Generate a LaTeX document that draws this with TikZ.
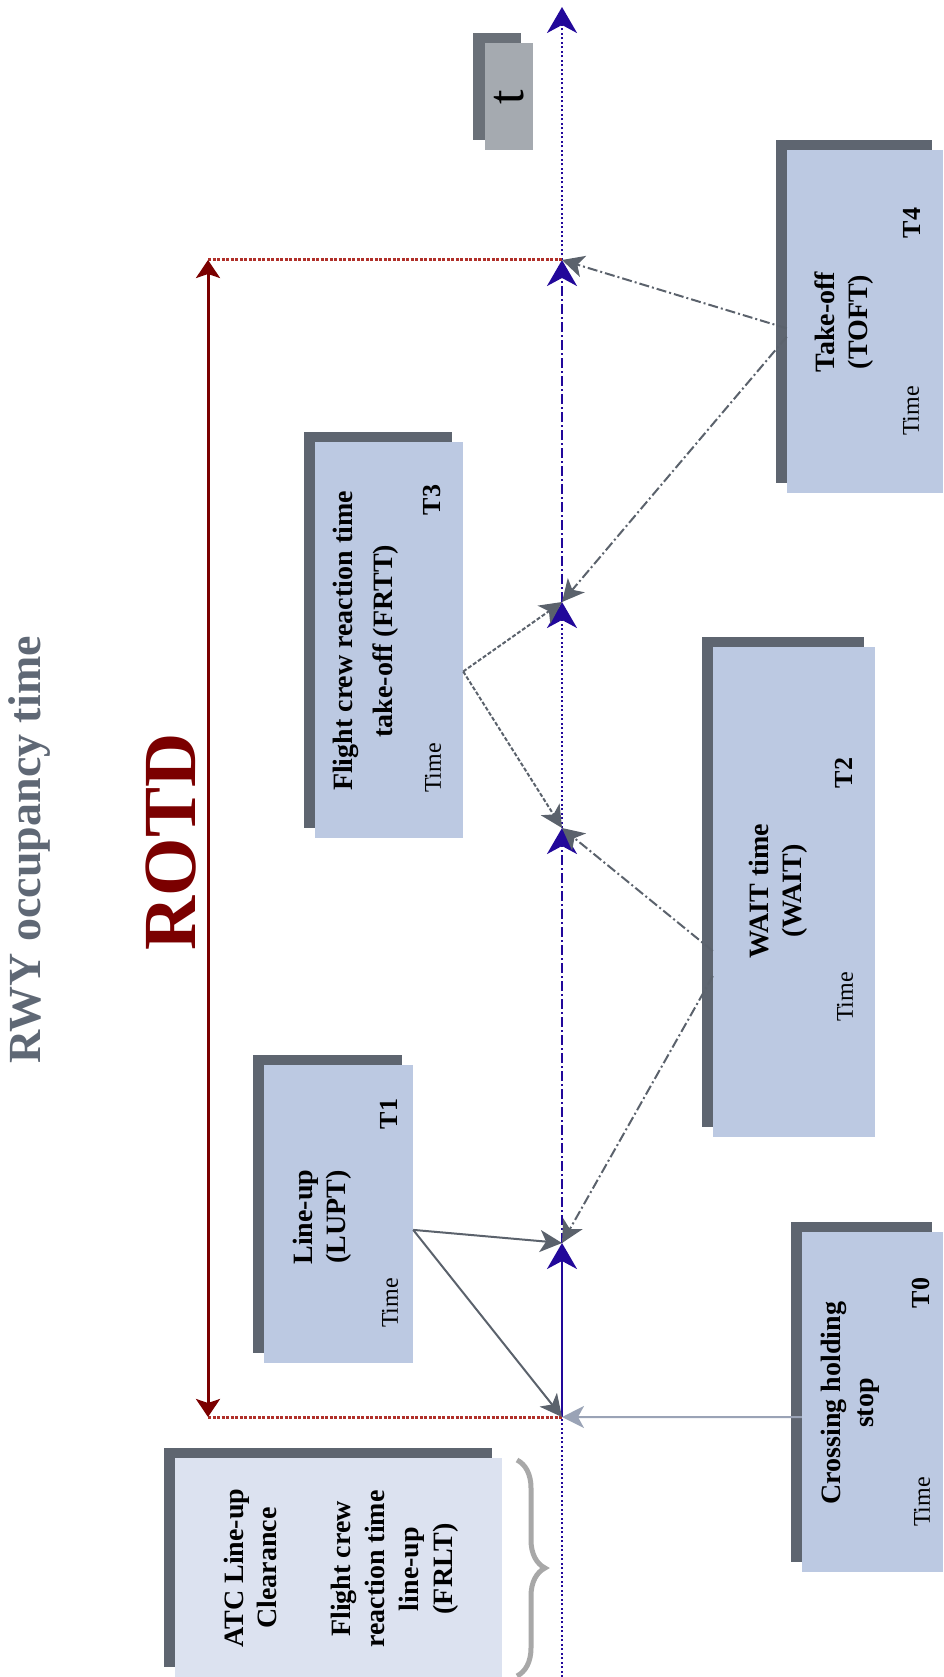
\documentclass[tikz,border=0pt]{standalone}
\usepackage{fontspec}
\setmainfont{Liberation Serif}
\usetikzlibrary{arrows.meta,shadows,decorations.pathreplacing}
\definecolor{boxfill}{HTML}{BCC9E2}
\definecolor{boxshade}{HTML}{5E6570}
\definecolor{atcfill}{HTML}{DCE2F0}
\definecolor{tfill}{HTML}{A5AAB0}
\definecolor{tshade}{HTML}{6A7078}
\definecolor{axisblue}{HTML}{22089A}
\definecolor{rotdred}{HTML}{7B0000}
\definecolor{dotred}{HTML}{B0302A}
\definecolor{feedgray}{HTML}{5B626C}
\definecolor{holdgray}{HTML}{9AA3B6}
\definecolor{bracegray}{HTML}{A8A8A8}
\definecolor{titlegray}{HTML}{5F6875}
\tikzset{
  box/.style={rectangle,inner sep=0pt,fill=boxfill,
    drop shadow={shadow xshift=-11pt,shadow yshift=10pt,fill=boxshade,opacity=1}},
  lbl/.style={rotate=90,align=center,inner sep=0pt,font=\fontsize{28}{33}\selectfont\bfseries},
  tnum/.style={rotate=90,inner sep=0pt,font=\fontsize{26}{30}\selectfont\bfseries},
  timelbl/.style={rotate=90,inner sep=0pt,font=\fontsize{24}{28}\selectfont},
  axis/.style={draw=axisblue,line width=2.5pt},
  axistip/.style={-{Stealth[length=26pt,width=30pt,inset=8pt]}},
  dashdot/.style={dash pattern=on 10pt off 3pt on 2pt off 3pt},
  dots/.style={dash pattern=on 2pt off 2.5pt},
  feed/.style={draw=feedgray,line width=2pt,-{Stealth[length=22pt,width=22pt,inset=6pt]}}
}
\begin{document}
\begin{tikzpicture}[x=1pt,y=-1pt]
\useasboundingbox (0,0) rectangle (943,1677);
% titles
\node[rotate=90,inner sep=0pt,text=titlegray,font=\fontsize{46}{50}\selectfont\bfseries] (title) at (30,850) {RWY occupancy time};
\node[rotate=90,inner sep=0pt,text=rotdred,font=\fontsize{75}{80}\selectfont\bfseries] (rotd) at (171,842) {ROTD};
% time axis
\coordinate (tbot) at (562,1677);
\coordinate (t0) at (562,1417);
\coordinate (t1) at (562,1243);
\coordinate (t2) at (562,828);
\coordinate (t3) at (562,602);
\coordinate (t4) at (562,260);
\coordinate (ttop) at (562,7);
\draw[axis,dots] (tbot) -- (t0);
\draw[axis,axistip] (t0) -- (t1);
\draw[axis,axistip,dashdot] (t1) -- (t2);
\draw[axis,axistip,dots] (t2) -- (t3);
\draw[axis,axistip,dashdot] (t3) -- (t4);
\draw[axis,axistip,dots] (t4) -- (ttop);
\node[rectangle,inner sep=0pt,fill=tfill,minimum width=48pt,minimum height=107pt,
  drop shadow={shadow xshift=-12pt,shadow yshift=10pt,fill=tshade,opacity=1}] (tbox) at (509,96.5) {};
\node[rotate=90,inner sep=0pt,font=\fontsize{52}{56}\selectfont] (tlabel) at (509,97) {t};
% ROTD span
\coordinate (rotd-top) at (208,260);
\coordinate (rotd-bot) at (208,1417);
\draw[dotred,line width=3pt,dash pattern=on 3pt off 1.5pt] (rotd-top) -- (t4);
\draw[dotred,line width=3pt,dash pattern=on 3pt off 1.5pt] (rotd-bot) -- (t0);
\draw[rotdred,line width=3pt,{Stealth[length=18pt,width=24pt,inset=4pt]}-{Stealth[length=18pt,width=24pt,inset=4pt]}] (rotd-bot) -- (rotd-top);
% boxes
\node[box,fill=atcfill,minimum width=327pt,minimum height=219pt,
  drop shadow={shadow xshift=-10pt,shadow yshift=10pt,fill=boxshade,opacity=1}] (atc) at (338.5,1567.5) {};
\node[lbl] (atc-txt) at (250,1568) {ATC Line-up\\Clearance};
\node[lbl,font=\fontsize{28}{34}\selectfont\bfseries] (frlt-txt) at (395,1569) {Flight crew\\reaction time\\line-up\\(FRLT)};
\draw[bracegray,line width=5pt,decorate,decoration={brace,amplitude=28pt}] (517,1460) -- (517,1676);

\node[box,minimum width=141pt,minimum height=340pt] (chs) at (872.5,1402) {};
\node[lbl] (chs-txt) at (850,1403) {Crossing holding\\stop};
\node[tnum] (chs-t) at (921,1293) {T0};
\node[timelbl] (chs-time) at (922,1502) {Time};

\node[box,minimum width=149pt,minimum height=298pt] (lupt) at (338.5,1214) {};
\node[lbl] (lupt-txt) at (322,1217) {Line-up\\(LUPT)};
\node[tnum] (lupt-t) at (389,1114) {T1};
\node[timelbl] (lupt-time) at (390,1303) {Time};

\node[box,minimum width=162pt,minimum height=490pt] (wait) at (794,892) {};
\node[lbl] (wait-txt) at (778,891) {WAIT time\\(WAIT)};
\node[tnum] (wait-t) at (844,773) {T2};
\node[timelbl] (wait-time) at (845,997) {Time};

\node[box,minimum width=148pt,minimum height=396pt] (frtt) at (389,640) {};
\node[lbl,font=\fontsize{28}{40}\selectfont\bfseries] (frtt-txt) at (366,641) {Flight crew reaction time\\take-off (FRTT)};
\node[tnum] (frtt-t) at (432,500) {T3};
\node[timelbl] (frtt-time) at (433,768) {Time};

\node[box,minimum width=156pt,minimum height=343pt] (toft) at (865,321.5) {};
\node[lbl] (toft-txt) at (844,322) {Take-off\\(TOFT)};
\node[tnum] (toft-t) at (912,223) {T4};
\node[timelbl] (toft-time) at (911,411) {Time};
% feeds to the axis
\draw[holdgray,line width=2pt,-{Stealth[length=22pt,width=22pt,inset=6pt]}] (chs.192) -- (t0);
\draw[feed] (lupt.-12) -- (t1);
\draw[feed] (lupt.-12) -- (t0);
\draw[feed,dashdot] (wait.216) -- (t2);
\draw[feed,dashdot] (wait.226) -- (t1);
\draw[feed,dash pattern=on 4pt off 2pt] (frtt.-23) -- (t3);
\draw[feed,dash pattern=on 4pt off 2pt] (frtt.-23) -- (t2);
\draw[feed,dashdot] (toft.185) -- (t4);
\draw[feed,dashdot] (toft.191) -- (t3);
\end{tikzpicture}
\end{document}
